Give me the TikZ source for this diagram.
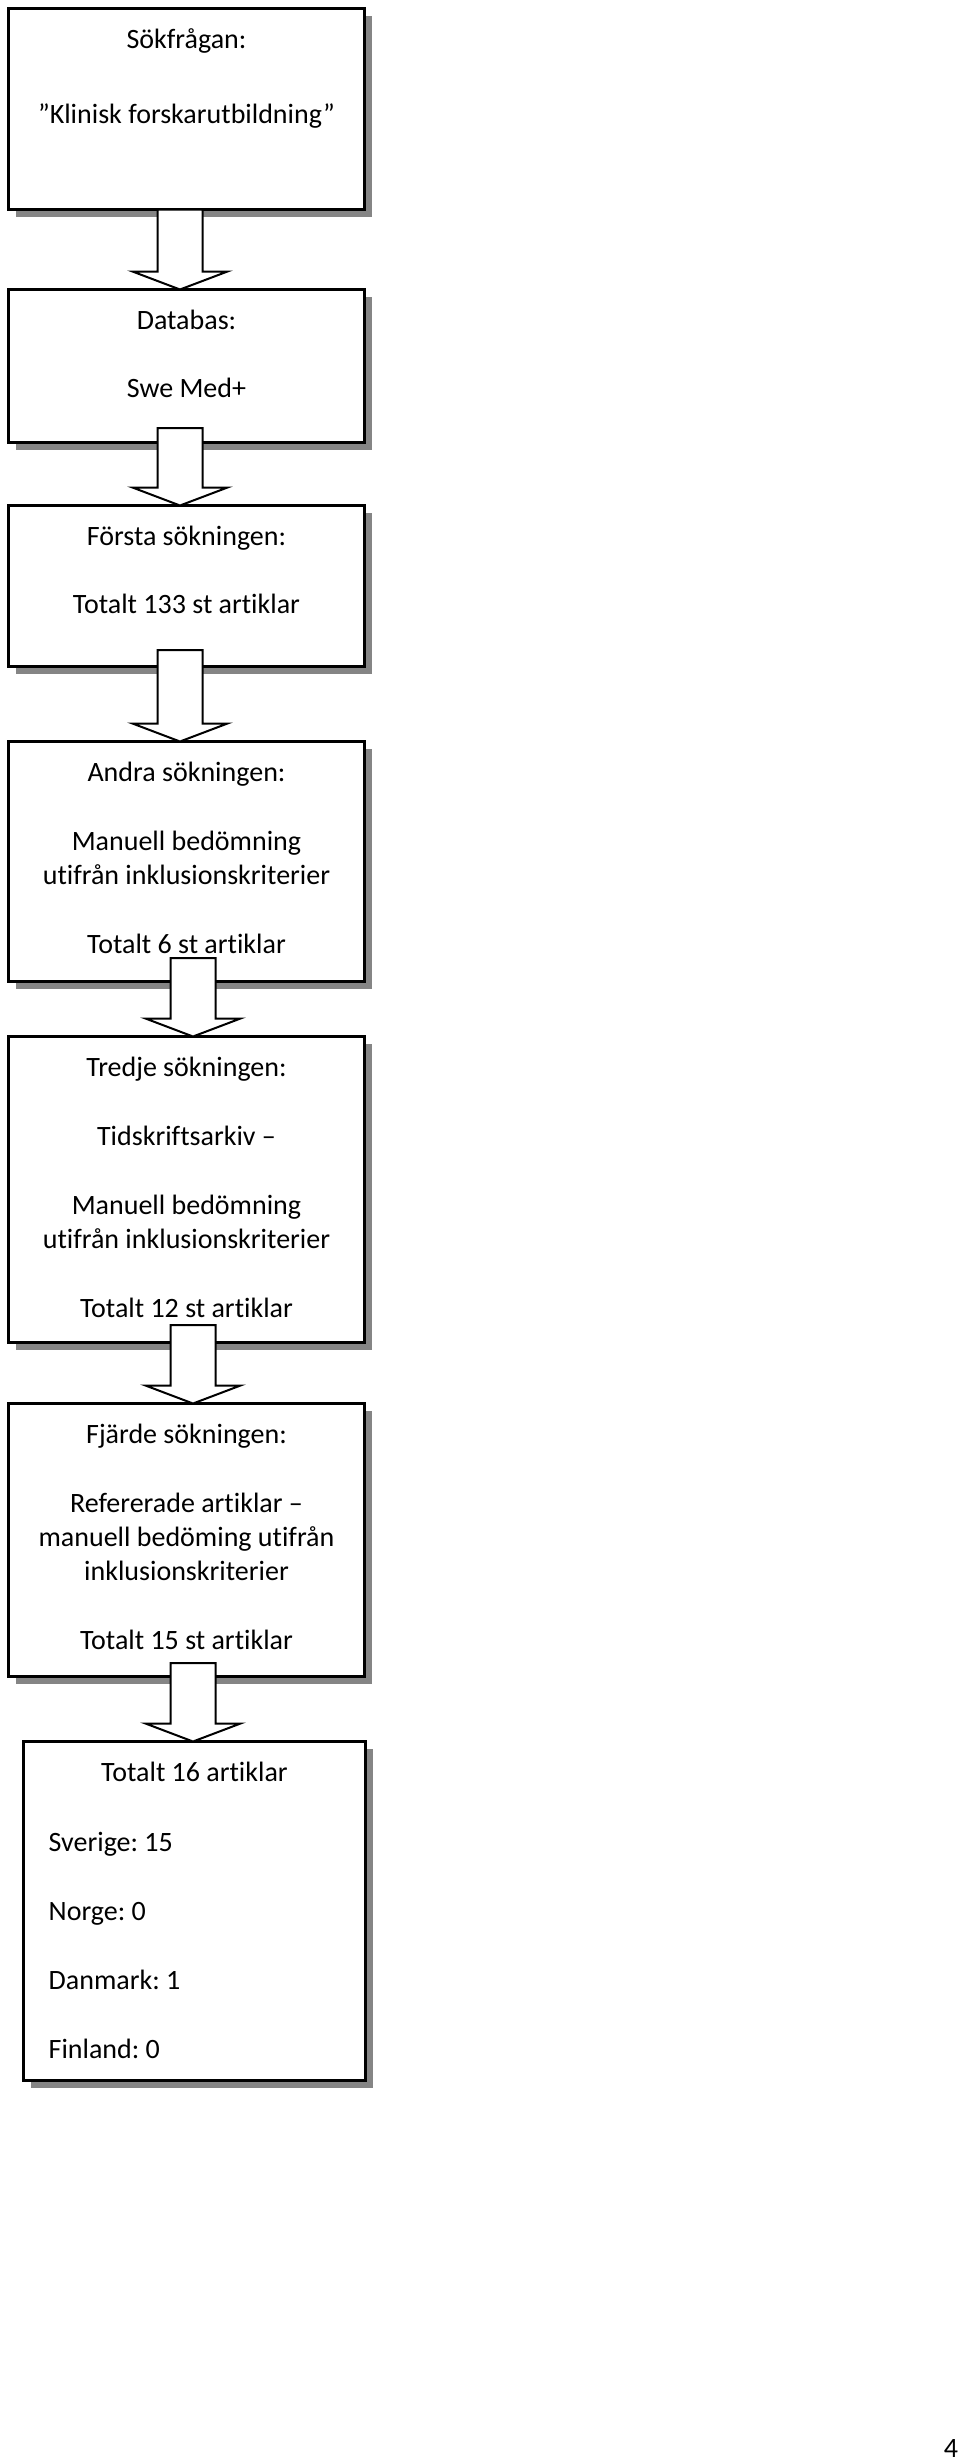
\documentclass[tikz,border=0pt]{standalone}
\usepackage{fontspec}
\setmainfont[Ligatures=NoCommon]{Carlito}
\usetikzlibrary{calc,positioning,shadows}
\frenchspacing

% block arrow from one box down to the next
\newcommand{\flowarrow}[4]{%
  \coordinate (tip) at ($(#2.north)+(#3,0)$);
  \coordinate (tail) at (tip |- #1.south);
  \draw[flow] (tip) -- ++(-47.5,18) -- ++(25,0) -- ($(tail)+(-22.5,#4)$)
    -- ++(45,0) -- ($(tip)+(22.5,18)$) -- ++(25,0) -- cycle;
}
% lines of a box, first baseline on top
\newcommand{\boxlines}[2]{\begin{tabular}[t]{@{}#1@{}}#2\end{tabular}}

\begin{document}
\begin{tikzpicture}
      [x=1pt, y=1pt,
        box/.style={
          rectangle,
          draw=black, line width=3pt,
          fill=white,
          outer sep=0pt, inner sep=0pt,
          minimum width=356pt,
          drop shadow={shadow xshift=7.5pt, shadow yshift=-7.5pt, fill=black!48, opacity=1},
        },
        flow/.style={draw=black, line width=2pt, fill=white, line join=miter},
        txt/.style={font=\fontsize{28pt}{34pt}\selectfont, inner sep=0pt, anchor=base},
      ]
      \useasboundingbox (0,0) rectangle (960,-2461);

      \node[box, minimum height=201pt] (query) at (186.5,-109) {};
      \node[txt] (querytext) at ($(query.north)+(0,-40)$) {\boxlines{c}{Sökfrågan:\\[41pt]”Klinisk forskarutbildning”}};

      \node[box, minimum height=153pt, below=80pt of query] (database) {};
      \node[txt] (databasetext) at ($(database.north)+(0,-40)$) {\boxlines{c}{Databas:\\[34pt]Swe Med+}};

      \node[box, minimum height=161pt, below=63pt of database] (first) {};
      \node[txt] (firsttext) at ($(first.north)+(0,-40)$) {\boxlines{c}{Första sökningen:\\[34pt]Totalt 133 st artiklar}};

      \node[box, minimum height=240pt, below=75pt of first] (second) {};
      \node[txt] (secondtext) at ($(second.north)+(0,-40)$) {\boxlines{c}{Andra sökningen:\\[35pt]Manuell bedömning\\utifrån inklusionskriterier\\[35pt]Totalt 6 st artiklar}};

      \node[box, minimum height=306pt, below=55pt of second] (third) {};
      \node[txt] (thirdtext) at ($(third.north)+(0,-40)$) {\boxlines{c}{Tredje sökningen:\\[35pt]Tidskriftsarkiv –\\[35pt]Manuell bedömning\\utifrån inklusionskriterier\\[35pt]Totalt 12 st artiklar}};

      \node[box, minimum height=273pt, below=61pt of third] (fourth) {};
      \node[txt] (fourthtext) at ($(fourth.north)+(0,-40)$) {\boxlines{c}{Fjärde sökningen:\\[35pt]Refererade artiklar –\\manuell bedöming utifrån\\inklusionskriterier\\[35pt]Totalt 15 st artiklar}};

      \node[box, minimum width=342pt, minimum height=339pt, below=65pt of fourth, xshift=8pt] (result) {};
      \node[txt] (resulttext) at ($(result.north)+(0,-40)$) {Totalt 16 artiklar};
      \node[txt, anchor=base west] (countrytext) at ($(result.north west)+(25,-110)$) {\boxlines{l}{Sverige: 15\\[35pt]Norge: 0\\[35pt]Danmark: 1\\[35pt]Finland: 0}};

      \flowarrow{query}{database}{-6.5}{0}
      \flowarrow{database}{first}{-6.5}{14.5}
      \flowarrow{first}{second}{-6.5}{16.5}
      \flowarrow{second}{third}{6.5}{23.5}
      \flowarrow{third}{fourth}{6.5}{17.5}
      \flowarrow{fourth}{result}{-1.5}{13.5}

      \node[txt] (pagenum) at (951,-2457) {4};
    \end{tikzpicture}
\end{document}
